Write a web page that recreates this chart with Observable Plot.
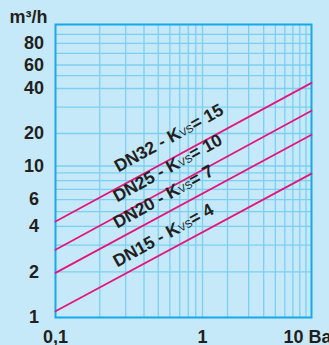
<!DOCTYPE html>
<html>
<head>
<meta charset="utf-8">
<script src="https://cdn.jsdelivr.net/npm/d3@7"></script>
<script src="https://cdn.jsdelivr.net/npm/@observablehq/plot@0.6"></script>
<style>
html, body { margin: 0; padding: 0; background: #c6e9f9; }
#chart svg { display: block; }
</style>
</head>
<body>
<div id="chart"></div>
<script>
// ---- data ----
const series = ["DN15", "DN20", "DN25", "DN32"];
const kvs = [4, 7, 10, 15];
const pressureEnds = [0.1, 10];           // Bar
const flowAtMin = [1.1, 1.97, 2.8, 4.3];  // m³/h at 0,1 Bar
const flowAtMax = [8.9, 19.5, 28.4, 44.1];// m³/h at 10 Bar
const labelP = [0.263, 0.263, 0.263, 0.268];
const labelQ = [2.14, 3.85, 5.75, 9.07];
const xTicks = [0.1, 1, 10];
const xTickLabels = ["0,1", "1", "10 Bar"];
const yTicks = [1, 2, 4, 6, 10, 20, 40, 60, 80];
const xGrid = [0.2, 0.3, 0.4, 0.5, 0.6, 0.7, 0.8, 0.9, 1, 2, 3, 4, 5, 6, 7, 8, 9];
const yGrid = [2, 3, 4, 5, 6, 7, 8, 9, 10, 20, 30, 40, 50, 60, 70, 80, 90];

// ---- build tables ----
const lineData = series.flatMap((s, i) => [
  {s, p: pressureEnds[0], q: flowAtMin[i]},
  {s, p: pressureEnds[1], q: flowAtMax[i]}
]);
const labelData = series.map((s, i) => ({
  p: labelP[i], q: labelQ[i], t: `${s} - K|VS|= ${kvs[i]}`
}));

const W = 329, H = 345, mL = 55, mR = 18, mT = 24, mB = 28;
const font = "'Liberation Sans', Arial, Helvetica, sans-serif";
const ink = "#231f20";

const chart = Plot.plot({
  width: W,
  height: H,
  marginLeft: mL,
  marginRight: mR,
  marginTop: mT,
  marginBottom: mB,
  style: {background: "#c6e9f9", fontFamily: font, overflow: "visible"},
  // the reference's log axes are slightly uneven: piecewise log scales follow them
  x: {type: "log", domain: [0.1, 1, 2, 10], range: [mL, mL + 147, mL + 172, W - mR], axis: null},
  y: {type: "log", domain: [1, 10, 20, 40, 60, 100],
      range: [H - mB, H - mB - 151.5, H - mB - 184, H - mB - 229, H - mB - 252.5, mT + 2], axis: null},
  marks: [
    Plot.ruleX(xGrid, {stroke: "#7ccff1", strokeWidth: 1.3}),
    Plot.ruleY(yGrid, {stroke: "#7ccff1", strokeWidth: 1.3}),
    Plot.frame({stroke: "#16a8e8", strokeWidth: 2}),
    Plot.line(lineData, {x: "p", y: "q", z: "s", stroke: "#e4167c", strokeWidth: 1.8}),
    Plot.text(labelData, {
      x: "p", y: "q", text: "t", rotate: -29, textAnchor: "start", lineAnchor: "bottom",
      fontSize: 17.5, fontWeight: "bold", fill: ink
    }),
    Plot.text(yTicks, {
      y: d => d, text: d => String(d), frameAnchor: "left", dx: -21.5,
      textAnchor: "middle", lineAnchor: "middle", fontSize: 18, fontWeight: "bold", fill: ink
    }),
    Plot.text(xTicks.slice(0, 2), {
      x: d => d, text: (d, i) => xTickLabels[i], frameAnchor: "bottom", dy: 20,
      textAnchor: "middle", lineAnchor: "middle", fontSize: 18, fontWeight: "bold", fill: ink
    }),
    Plot.text(xTicks.slice(2), {
      x: d => d, text: () => xTickLabels[2], frameAnchor: "bottom", dy: 20, dx: -28,
      textAnchor: "start", lineAnchor: "middle", fontSize: 18, fontWeight: "bold", fill: ink
    }),
    Plot.text(["m³/h"], {
      frameAnchor: "top-left", dx: -27, dy: -7, textAnchor: "middle", lineAnchor: "middle",
      fontSize: 18, fontWeight: "bold", fill: ink
    })
  ]
});

// subscript "VS" inside the series labels
d3.select(chart).selectAll("text").each(function() {
  const el = this;
  const txt = el.textContent;
  if (!txt.includes("|")) return;
  const [a, b, c] = txt.split("|");
  el.textContent = "";
  const ns = "http://www.w3.org/2000/svg";
  const t1 = document.createElementNS(ns, "tspan"); t1.textContent = a;
  const t2 = document.createElementNS(ns, "tspan"); t2.textContent = b;
  t2.setAttribute("font-size", "10.5"); t2.setAttribute("font-weight", "normal");
  const t3 = document.createElementNS(ns, "tspan"); t3.textContent = c;
  el.append(t1, t2, t3);
});

document.getElementById("chart").append(chart);
</script>
</body>
</html>
